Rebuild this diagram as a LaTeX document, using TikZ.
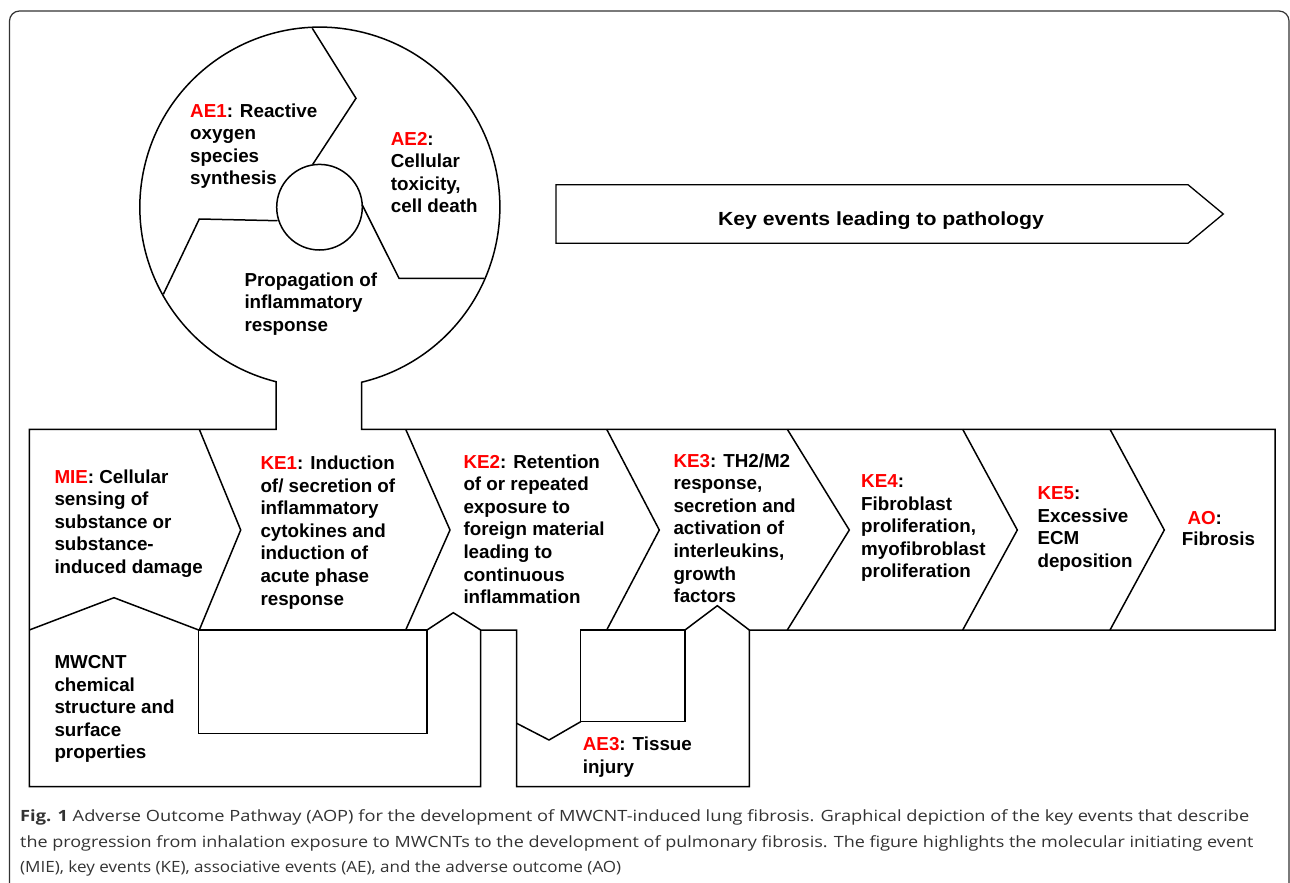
\documentclass[tikz,border=0pt]{standalone}
\usepackage{fontspec}
\setmainfont{Liberation Sans}
\newfontfamily\capfont{Open Sans}
\usepackage{graphicx}
\newcommand\redlab[1]{\textcolor{red}{#1}}
\begin{document}
\begin{tikzpicture}[x=1pt,y=-1pt,
  ln/.style={line width=1.5pt, line join=miter, draw=black},
  frame/.style={line width=1.2pt, draw=black!80},
  txt/.style={anchor=base west, inner sep=0pt, font=\fontsize{18.8}{22.6}\selectfont\bfseries},
  captxt/.style={anchor=base west, inner sep=0pt, text=black!80, font=\capfont\fontsize{15.5}{18}\selectfont}]
\useasboundingbox (0,0) rectangle (1290,883);
\fill[white] (0,0) rectangle (1290,883);
% outer frame
\draw[frame] (9.5,895) -- (9.5,21) arc[start angle=180,end angle=270,radius=10] -- (1279,11) arc[start angle=270,end angle=360,radius=10] -- (1289,895);
% keyhole outline and chevron band
\draw[ln] (29.3,429.3) -- (276,429.3) -- (276,381.7)
  arc[start angle=104.1,end angle=436.6,radius=180]
  -- (361.7,429.3) -- (1275,429.3) -- (1275,630) -- (749.3,630) -- (749.3,786.7)
  -- (516.7,786.7) -- (516.7,630) -- (480.7,630) -- (480.7,786.7) -- (29.3,786.7) -- cycle;
% inner circle and dividers
\draw[ln] (319.5,207.2) circle[radius=42.8];
\draw[ln] (312.3,28.3) -- (356,98.3) -- (312.7,164.4);
\draw[ln] (277.5,220.7) -- (199.3,219) -- (163.3,294.3);
\draw[ln] (362.3,205) -- (399,278.3) -- (484.3,278.3);
% chevron dividers
\draw[ln] (199.3,429.3) -- (240.7,530) -- (199.3,630);
\draw[ln] (405.7,429.3) -- (450,530) -- (405.7,630);
\draw[ln] (606.7,429.3) -- (659.3,530) -- (606.7,630);
\draw[ln] (787.3,429.3) -- (849.3,530) -- (787.3,630);
\draw[ln] (962.7,429.3) -- (1017.3,530) -- (962.7,630);
\draw[ln] (1110,429.3) -- (1164.3,530) -- (1110,630);
% lower shapes
\draw[ln] (29.3,630) -- (114,597.7) -- (198.7,630);
\draw[ln] (198.7,630) rectangle (427,733.3);
\draw[ln] (427,630) -- (453.3,612.7) -- (480.7,630);
\draw[ln] (516.7,723.3) -- (549,740) -- (580.7,721.7);
\draw[ln] (580.7,630) rectangle (685,721.7);
\draw[ln] (685,630) -- (717.3,605.7) -- (749.3,630);
% key events arrow
\draw[line width=1.3pt] (556,184.7) -- (1188,184.7) -- (1223.3,214) -- (1188,243.3) -- (556,243.3) -- cycle;
\node[anchor=base, inner sep=0pt, font=\fontsize{19}{22}\selectfont\bfseries] (keyev) at (881,225)
  {\resizebox{326pt}{\height}{Key events leading to pathology}};
% circle texts
\node[txt] (ae1) at (190,117) {\begin{tabular}[t]{@{}l@{}}\redlab{AE1}: Reactive\\oxygen\\species\\synthesis\end{tabular}};
\node[txt] (ae2) at (390.7,145) {\begin{tabular}[t]{@{}l@{}}\redlab{AE2}:\\Cellular\\toxicity,\\cell death\end{tabular}};
\node[txt] (prop) at (244.3,286) {\begin{tabular}[t]{@{}l@{}}Propagation of\\inflammatory\\response\end{tabular}};
% chevron texts
\node[txt] (mie) at (54.3,483) {\begin{tabular}[t]{@{}l@{}}\redlab{MIE}: Cellular\\sensing of\\substance or\\substance-\\induced damage\end{tabular}};
\node[txt] (ke1) at (260.3,469.5) {\begin{tabular}[t]{@{}l@{}}\redlab{KE1}: Induction\\of/ secretion of\\inflammatory\\cytokines and\\induction of\\acute phase\\response\end{tabular}};
\node[txt] (ke2) at (463.3,468) {\begin{tabular}[t]{@{}l@{}}\redlab{KE2}: Retention\\of or repeated\\exposure to\\foreign material\\leading to\\continuous\\inflammation\end{tabular}};
\node[txt] (ke3) at (673.3,467) {\begin{tabular}[t]{@{}l@{}}\redlab{KE3}: TH2/M2\\response,\\secretion and\\activation of\\interleukins,\\growth\\factors\end{tabular}};
\node[txt] (ke4) at (861,487.5) {\begin{tabular}[t]{@{}l@{}}\redlab{KE4}:\\Fibroblast\\proliferation,\\myofibroblast\\proliferation\end{tabular}};
\node[txt] (ke5) at (1037.3,499.5) {\begin{tabular}[t]{@{}l@{}}\redlab{KE5}:\\Excessive\\ECM\\deposition\end{tabular}};
\node[txt] (ao) at (1187.3,524.5) {\redlab{AO}:};
\node[txt] (fib) at (1181.7,545.7) {Fibrosis};
\node[txt] (mwcnt) at (54.3,668.5) {\begin{tabular}[t]{@{}l@{}}MWCNT\\chemical\\structure and\\surface\\properties\end{tabular}};
\node[txt] (ae3) at (582.7,750.8) {\begin{tabular}[t]{@{}l@{}}\redlab{AE3}: Tissue\\injury\end{tabular}};
% caption
\node[captxt] (cap1) at (20,821) {\resizebox{1229pt}{\height}{\textbf{Fig. 1} Adverse Outcome Pathway (AOP) for the development of MWCNT-induced lung fibrosis. Graphical depiction of the key events that describe}};
\node[captxt] (cap2) at (20,847) {\resizebox{1233pt}{\height}{the progression from inhalation exposure to MWCNTs to the development of pulmonary fibrosis. The figure highlights the molecular initiating event}};
\node[captxt] (cap3) at (20,872) {\resizebox{601pt}{\height}{(MIE), key events (KE), associative events (AE), and the adverse outcome (AO)}};
\end{tikzpicture}
\end{document}
